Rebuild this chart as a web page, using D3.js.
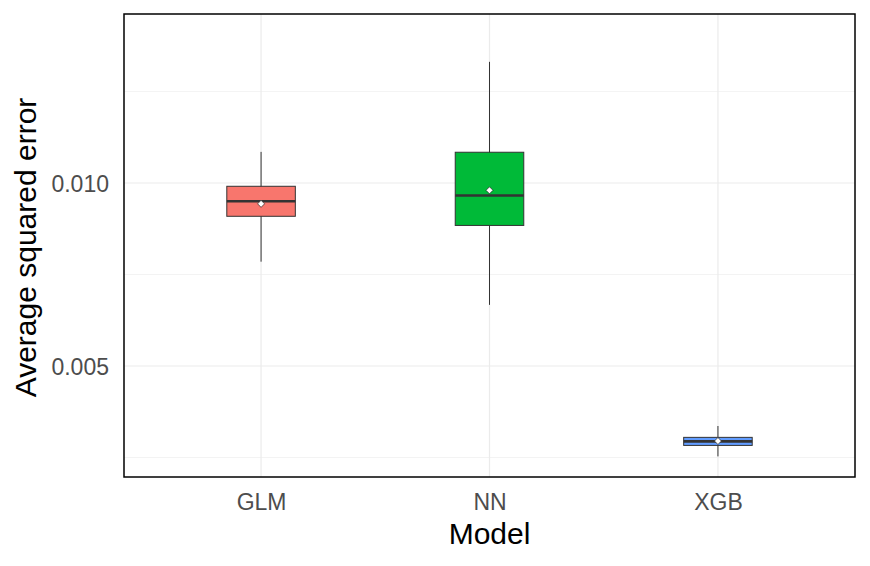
<!DOCTYPE html>
<html><head><meta charset="utf-8">
<script src="https://cdn.jsdelivr.net/npm/d3@7"></script>
<style>body{margin:0;background:#fff}svg{display:block}text{font-family:"Liberation Sans",Arial,sans-serif}</style>
</head><body>
<svg id="c" width="870" height="566"></svg>
<script>
const categories = ["GLM","NN","XGB"];
const colors = ["#F8766D","#00BA38","#619CFF"];
const whiskerLow = [0.00785, 0.00667, 0.00253];
const q1 = [0.00909, 0.00884, 0.00283];
const medians = [0.00950, 0.00966, 0.00294];
const q3 = [0.00991, 0.01084, 0.00305];
const whiskerHigh = [0.01085, 0.01331, 0.00336];
const means = [0.00943, 0.00980, 0.00295];
const majorTicks = [0.005, 0.010];
const minorTicks = [0.0025, 0.0075, 0.0125];

const svg = d3.select("#c");
const L=124, R=855, T=14, B=477;
const y = d3.scaleLinear().domain([0.001967, 0.014617]).range([B, T]);
const x = d3.scalePoint().domain(categories).range([L, R]).padding(0.6);
const step = x.step();
const bw = step*0.3;

const g = svg.append("g");
g.selectAll(".minor").data(minorTicks).join("line")
  .attr("x1",L).attr("x2",R).attr("y1",d=>y(d)).attr("y2",d=>y(d))
  .attr("stroke","#EBEBEB").attr("stroke-width",0.6);
g.selectAll(".major").data(majorTicks).join("line")
  .attr("x1",L).attr("x2",R).attr("y1",d=>y(d)).attr("y2",d=>y(d))
  .attr("stroke","#EBEBEB").attr("stroke-width",1.2);
g.selectAll(".vmajor").data(categories).join("line")
  .attr("y1",T).attr("y2",B).attr("x1",d=>x(d)).attr("x2",d=>x(d))
  .attr("stroke","#EBEBEB").attr("stroke-width",1.2);

const data = categories.map((c,i)=>({c,i}));
const bx = g.selectAll(".box").data(data).join("g");
bx.append("line").attr("x1",d=>x(d.c)).attr("x2",d=>x(d.c))
  .attr("y1",d=>y(whiskerLow[d.i])).attr("y2",d=>y(whiskerHigh[d.i]))
  .attr("stroke","#333333").attr("stroke-width",1);
bx.append("rect").attr("x",d=>x(d.c)-bw/2).attr("width",bw)
  .attr("y",d=>y(q3[d.i])).attr("height",d=>y(q1[d.i])-y(q3[d.i]))
  .attr("fill",d=>colors[d.i]).attr("stroke","#333333").attr("stroke-width",1);
bx.append("line").attr("x1",d=>x(d.c)-bw/2).attr("x2",d=>x(d.c)+bw/2)
  .attr("y1",d=>y(medians[d.i])).attr("y2",d=>y(medians[d.i]))
  .attr("stroke","#333333").attr("stroke-width",2.6);
bx.append("path").attr("d",d=>{const cx=x(d.c), cy=y(means[d.i]), r=3.5;return `M${cx},${cy-r}L${cx+r},${cy}L${cx},${cy+r}L${cx-r},${cy}Z`;})
  .attr("fill","#fff").attr("stroke","#222").attr("stroke-width",0.7);

svg.append("rect").attr("x",L).attr("y",T).attr("width",R-L).attr("height",B-T)
  .attr("fill","none").attr("stroke","#000").attr("stroke-width",1.5);

// axes
const ya = svg.append("g").attr("transform",`translate(${L},0)`)
  .call(d3.axisLeft(y).tickValues(majorTicks).tickFormat(d3.format(".3f")).tickSize(0).tickPadding(15));
ya.select(".domain").remove();
ya.selectAll("text").attr("fill","#4D4D4D").attr("dy","0.36em").style("font-size","23px").style("font-family","Liberation Sans, Arial, sans-serif");
const xa = svg.append("g").attr("transform",`translate(0,${B})`)
  .call(d3.axisBottom(x).tickSize(0));
xa.select(".domain").remove();
xa.selectAll("text").attr("fill","#4D4D4D").attr("y",33).attr("dy","0").style("font-size","23px").style("font-family","Liberation Sans, Arial, sans-serif");

svg.append("text").attr("x",(L+R)/2).attr("y",544).attr("text-anchor","middle")
  .attr("font-size",30).attr("fill","#000").text("Model");
svg.append("text").attr("transform",`translate(36,${(T+B)/2+2}) rotate(-90)`).attr("text-anchor","middle")
  .attr("font-size",30).attr("fill","#000").text("Average squared error");
</script>
</body></html>
